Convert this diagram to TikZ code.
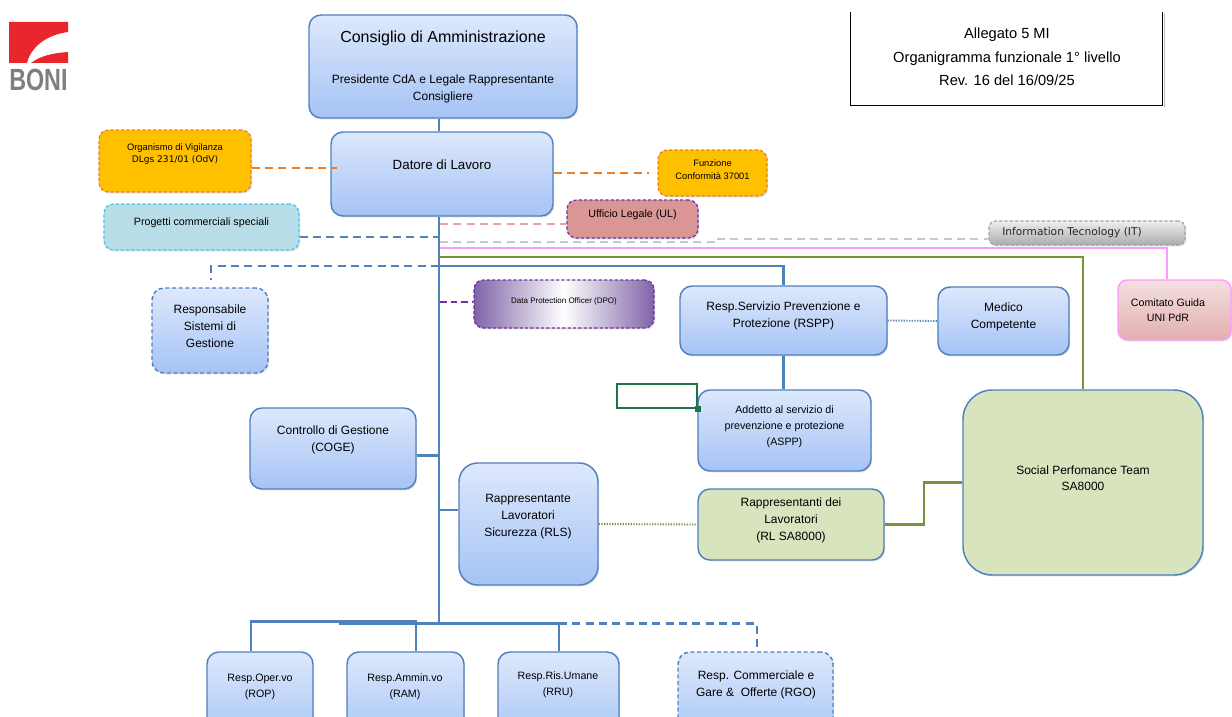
\documentclass[tikz,border=0pt]{standalone}
\usepackage{fontspec}
\setmainfont{Liberation Sans}
\newfontfamily\dejavu{DejaVu Sans}
\usetikzlibrary{fit,shadows,calc}
\definecolor{bbord}{HTML}{4F81BD}
\definecolor{btop}{HTML}{DDE8FC}
\definecolor{bbot}{HTML}{A5C3F5}
\definecolor{orfill}{HTML}{FFC000}
\definecolor{orline}{HTML}{EE7D2A}
\definecolor{ulfill}{HTML}{D99694}
\definecolor{ulline}{HTML}{E6A3A3}
\definecolor{purp}{HTML}{7030A0}
\definecolor{dpoout}{HTML}{8064A8}
\definecolor{pcfill}{HTML}{B7DEE8}
\definecolor{pcbord}{HTML}{4BC3E8}
\definecolor{grayl}{HTML}{C8C8C8}
\definecolor{itbord}{HTML}{A0A0A0}
\definecolor{ittop}{HTML}{EEEEEE}
\definecolor{itbot}{HTML}{ABABAB}
\definecolor{pinkl}{HTML}{FF99FF}
\definecolor{cgtop}{HTML}{F4E0E0}
\definecolor{cgbot}{HTML}{E2AFAF}
\definecolor{oliveg}{HTML}{77933C}
\definecolor{sptfill}{HTML}{D7E4BD}
\definecolor{xlgreen}{HTML}{217346}
\definecolor{logored}{HTML}{E8262C}
\definecolor{logogray}{HTML}{7F7F7F}
\tikzset{
  shd/.style={drop shadow={opacity=0.25,shadow xshift=0.9pt,shadow yshift=-1.1pt}},
  bluebox/.style={draw=bbord, line width=1.1pt, rounded corners=9pt, top color=btop, bottom color=bbot, inner sep=0pt, align=center, shd},
  blueboxd/.style={bluebox, dash pattern=on 3pt off 2pt},
  orbox/.style={draw=orline, line width=0.9pt, dash pattern=on 2.5pt off 1.5pt, fill=orfill, rounded corners=7pt, inner sep=0pt, align=center, shd},
  ulbox/.style={draw=purp, line width=0.9pt, dash pattern=on 2.5pt off 1.5pt, fill=ulfill, rounded corners=7pt, inner sep=0pt, align=center, shd},
  pcbox/.style={draw=pcbord, line width=0.9pt, dash pattern=on 2.5pt off 1.5pt, fill=pcfill, rounded corners=7pt, inner sep=0pt, align=center, shd},
  itbox/.style={draw=itbord, line width=0.9pt, dash pattern=on 2.5pt off 1.5pt, top color=ittop, bottom color=itbot, rounded corners=5pt, inner sep=0pt, shd},
  dpobox/.style={draw=purp, line width=0.9pt, dash pattern=on 2.5pt off 1.5pt, left color=dpoout, right color=dpoout, middle color=white, rounded corners=7pt, inner sep=0pt, align=center, shd},
  cgbox/.style={draw=pinkl, line width=1.1pt, top color=cgtop, bottom color=cgbot, rounded corners=7pt, inner sep=0pt, align=center, shd},
  greenbox/.style={draw=bbord, line width=1.1pt, fill=sptfill, rounded corners=9pt, inner sep=0pt, align=center, shd},
  f9/.style={font=\fontsize{9}{12.7}\selectfont},
  f8/.style={font=\fontsize{8}{11.8}\selectfont},
  txt/.style={inner sep=0pt, align=center},
  bl/.style={draw=bbord, line width=1.7pt},
  bldash/.style={bl, dash pattern=on 6pt off 4pt},
  bldot/.style={draw=bbord, line width=1.4pt, dash pattern=on 0.9pt off 1.1pt},
  ordash/.style={draw=orline, line width=1.7pt, dash pattern=on 6pt off 4pt},
  uldash/.style={draw=ulline, line width=1.5pt, dash pattern=on 6pt off 4pt},
  graydash/.style={draw=grayl, line width=1.7pt, dash pattern=on 6pt off 4pt},
  pinkline/.style={draw=pinkl, line width=1.5pt},
  oliveline/.style={draw=oliveg, line width=1.7pt},
  olivedot/.style={draw=oliveg, line width=1.4pt, dash pattern=on 0.9pt off 1.1pt},
  purpdash/.style={draw=purp, line width=1.7pt, dash pattern=on 5pt off 3pt},
}
\begin{document}
\begin{tikzpicture}[x=0.75pt,y=-0.75pt]
\fill[white] (0,0) rectangle (1232,717);
\useasboundingbox (0,0) rectangle (1232,717);
\clip (0,0) rectangle (1232,717);

% logo
\fill[logored] (9,22) -- (68,22) -- (68,32) .. controls (46,35) and (31,47) .. (27,63) -- (9,63) -- cycle;
\fill[logored] (31,63) .. controls (40,56) and (53,53) .. (68,52) -- (68,63) -- cycle;
\node[anchor=base west, inner sep=0pt, text=logogray, font=\bfseries\fontsize{23}{23}\selectfont] (boni) at (9,90) {\scalebox{0.76}[1]{BONI}};

% header
\node[fit={(851,12)(1162,105)}, inner sep=0pt] (hdr) {};
\fill[black!25] ($(hdr.north east)+(1.5,2)$) rectangle ($(hdr.south east)+(2.5,2)$);
\draw[line width=0.8pt] (hdr.north west) -- (hdr.south west) -- (hdr.south east) -- (hdr.north east);
\node[txt, font=\fontsize{11}{17.5}\selectfont] (hdrt) at (1007,57) {Allegato 5 MI\\Organigramma funzionale 1° livello\\Rev. 16 del 16/09/25};

% main boxes
\coordinate (mx) at (439,0);
\coordinate (bus) at (439,622);
\node[bluebox, fit={(309,15)(577,118)}] (cda) {};
\node[txt, font=\fontsize{12}{14}\selectfont] (cdat) at (443,38) {Consiglio di Amministrazione};
\node[txt, f9] (cdap) at (443,89) {Presidente CdA e Legale Rappresentante\\Consigliere};

\node[bluebox, fit={(331,132)(553,216)}] (dl) {};
\node[txt, font=\fontsize{10}{12}\selectfont] (dlt) at (442,165) {Datore di Lavoro};

\draw[bl] (cda.south -| mx) -- (dl.north -| mx);

% OdV
\node[orbox, fit={(99,130)(251,192)}] (odv) {};
\node[txt, font=\fontsize{7}{9}\selectfont] (odvt) at (175,154) {Organismo di Vigilanza\\{\dejavu\fontsize{6.8}{9}\selectfont DLgs 231/01 (OdV)}};
\draw[ordash] ($(odv.east)+(0,7)$) -- ($(dl.west |- odv.east)+(7,7)$);

% Funzione
\node[orbox, fit={(658,150)(767,196)}, font=\fontsize{7}{10}\selectfont] (fz) {Funzione\\Conformità 37001};
\draw[ordash] (dl.east |- fz.west) -- ($(fz.west)+(-8,0)$);

% UL
\node[ulbox, fit={(567,200)(698,238)}, font=\fontsize{8}{10}\selectfont] (ul) {Ufficio Legale (UL)};
\draw[uldash] ($(ul.west -| mx)+(1,5)$) -- ($(ul.west)+(0,5)$);

% Progetti
\node[pcbox, fit={(104,204)(299,250)}, font=\fontsize{8}{10}\selectfont] (pc) {Progetti commerciali speciali};
\draw[bldash] ($(pc.east)+(0,10)$) -- ($(pc.east -| mx)+(-1,10)$);

% IT
\node[itbox, fit={(989,221)(1185,245)}] (it) {};
\node[txt, font=\dejavu\fontsize{8}{10}\selectfont, text=black!85] (itt) at (1072,233) {Information Tecnology (IT)};
\draw[graydash] (440,242) -- (715,242) -- (715,239) -- (it.west |- 0,239);

% Comitato Guida
\node[cgbox, fit={(1118,280)(1231,340)}] (cg) {};
\node[txt, font=\fontsize{8}{11.5}\selectfont] (cgt) at (1168,310) {Comitato Guida\\UNI PdR};
\draw[pinkline] (440,248) -| ($(cg.north)+(-8,0)$);

% SPT
\node[greenbox, fit={(963,390)(1203,575)}, rounded corners=22pt, font=\fontsize{9}{12}\selectfont] (spt) {Social Perfomance Team\\SA8000};
\draw[oliveline] (440,257) -| (spt.north);

% RSPP
\node[bluebox, fit={(680,286)(887,355)}, f9] (rspp) {Resp.Servizio Prevenzione e\\Protezione (RSPP)};
\draw[bl] (440,266) -| (rspp.north);

% RSG
\node[blueboxd, fit={(152,288)(268,373)}, font=\fontsize{9}{13}\selectfont] (rsg) {Responsabile\\Sistemi di\\Gestione};
\coordinate (rsgstub) at ($(rsg.north)+(1,-7)$);
\draw[bldash] (mx |- 0,266) -- (rsgstub |- 0,266) -- (rsgstub);

% DPO
\node[dpobox, fit={(474,280)(654,328)}, font=\fontsize{6}{8}\selectfont] (dpo) {Data Protection Officer (DPO)};
\draw[purpdash] ($(dpo.west -| mx)+(1,-2)$) -- ($(dpo.west)+(0,-2)$);

% Medico
\node[bluebox, fit={(938,287)(1069,355)}, f9] (med) {Medico\\Competente};
\draw[bldot] (rspp.east) -- (med.west);

% ASPP
\node[bluebox, fit={(698,390)(871,471)}, f8] (aspp) {Addetto al servizio di\\prevenzione e protezione\\(ASPP)};
\draw[bl] (rspp.south) -- (rspp.south |- aspp.north);

% green selection rectangle
\node[draw=xlgreen, line width=1.5pt, inner sep=0pt, fit={(617,384)(697,408)}] (sel) {};
\fill[xlgreen] ($(sel.south east)+(-3,-3)$) rectangle ($(sel.south east)+(3,3)$);

% COGE
\node[bluebox, fit={(250,408)(416,489)}] (coge) {};
\node[txt, f9] (coget) at (333,440) {Controllo di Gestione\\(COGE)};
\draw[bl] ($(coge.east)+(0,7)$) -- ($(coge.east -| mx)+(0,7)$);

% RLS
\node[bluebox, fit={(459,463)(598,585)}, rounded corners=14pt] (rls) {};
\node[txt, f9] (rlst) at (528,517) {Rappresentante\\Lavoratori\\Sicurezza (RLS)};
\draw[bl] (mx |- 0,510) -- (rls.west |- 0,510);

% RL SA8000
\node[greenbox, fit={(698,489)(884,560)}, f9] (rl) {Rappresentanti dei\\Lavoratori\\(RL SA8000)};
\draw[olivedot] (rls.east) -- (rl.west);
\draw[oliveline] (rl.east) -- ++(39,0) |- (spt.west);

% main vertical
\draw[bl] (dl.south -| mx) -- (bus);

% bottom boxes
\node[bluebox, fit={(207,652)(313,745)}] (rop) {};
\node[txt, f8] (ropt) at (260,687) {Resp.Oper.vo\\(ROP)};
\node[bluebox, fit={(347,652)(464,745)}] (ram) {};
\node[txt, f8] (ramt) at (405,687) {Resp.Ammin.vo\\(RAM)};
\node[bluebox, fit={(498,652)(619,745)}] (rru) {};
\node[txt, f8] (rrut) at (558,685) {Resp.Ris.Umane\\(RRU)};
\node[blueboxd, fit={(678,652)(833,745)}] (rgo) {};
\node[txt, f9] (rgot) at (756,685) {Resp. Commerciale e\\Gare \&\ \ Offerte (RGO)};

\draw[bl] (rop.north -| 251,0) -- (251,621.5) -- (416,621.5) -- (ram.north -| 416,0);
\draw[bl] (339,623.5) -- (559,623.5) -- (rru.north -| 559,0);
\draw[bldash] (559,623.5) -- (757,623.5) -- (rgo.north -| 757,0);
\end{tikzpicture}
\end{document}
